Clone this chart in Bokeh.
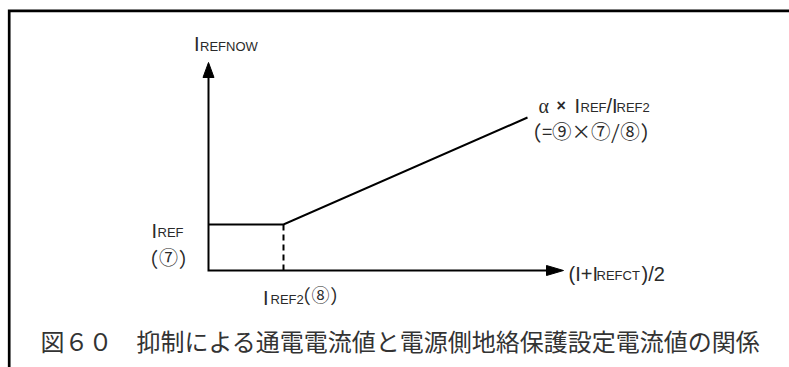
from bokeh.plotting import figure
from bokeh.models import Range1d, Label
from bokeh.embed import file_html
from bokeh.resources import INLINE

# ---- diagram values (drawing units, 1 unit = 1 px) ----
x_axis_end = 355          # tip of (I+IREFCT)/2 axis
y_axis_end = 208          # tip of IREFNOW axis
i_ref = 46                # IREF level (7)
i_ref2 = 75               # IREF2 break point (8)
curve_x = [0, i_ref2, 319]
curve_y = [i_ref, i_ref, 153]

caption = "図６０　抑制による通電電流値と電源側地絡保護設定電流値の関係"
y_label_main, y_label_sub = "I", "REFNOW"
x_label_parts = ["(I+I", "REFCT", ")/2"]
slope_parts = ["α", "×", "I", "REF", "/I", "REF2"]
slope_note = "(=⑨×⑦/⑧)"
iref_parts = ["I", "REF"]
iref_note = "(⑦)"
iref2_parts = ["I", "REF2", "(⑧)"]

W, H = 789, 367
ox, oy = 208, 270  # origin position inside canvas (px from left / top)

p = figure(width=W, height=H, x_range=Range1d(-ox, W - ox), y_range=Range1d(oy - H, oy),
           output_backend="svg", toolbar_location=None, x_axis_type=None, y_axis_type=None,
           min_border=0, background_fill_color="white", border_fill_color="white")
p.outline_line_color = None

# frame (clipped on the right / bottom like the source)
fx = -ox + 8.7
fy = oy - 10.4
p.line([fx, fx, W], [oy - H - 10, fy, fy], line_color="black", line_width=2.7, line_join="miter")

# axes
p.line([0, 0, x_axis_end - 16], [y_axis_end - 14, 0, 0], line_color="black", line_width=2,
       line_join="miter")
p.patches(xs=[[0, -5.5, 5.5], [x_axis_end, x_axis_end - 17, x_axis_end - 17]],
          ys=[[y_axis_end, y_axis_end - 15, y_axis_end - 15], [0, 5, -5]],
          fill_color="black", line_color="black", line_width=1)

# characteristic
p.line(curve_x, curve_y, line_color="black", line_width=2, line_join="miter")
p.line([i_ref2, i_ref2], [i_ref, -4], line_color="black", line_width=2, line_dash="6 4")

TXT = "#2a2a2a"
MAIN, SUB = 20, 13
LAT = "Liberation Sans"
CJK = "'Noto Sans Mono CJK JP', 'Noto Sans CJK JP'"
CJKC = "Noto Sans CJK JP"
DY_A = 6     # correction for alphabetic baseline placement
DY_M = 2.5   # correction for middle baseline placement


def lab(text, x, y, size, font=LAT, baseline="alphabetic", color=TXT, style="normal"):
    dy = DY_A if baseline == "alphabetic" else DY_M
    p.add_layout(Label(x=x, y=y + dy, text=text, text_font=font, text_font_size=f"{size}px",
                       text_color=color, text_baseline=baseline, text_align="left",
                       text_font_style=style))


# y-axis title
lab(y_label_main, -14.5, y_axis_end + 13, MAIN)
lab(y_label_sub, -8.5, y_axis_end + 10, SUB)

# x-axis title
xt = x_axis_end + 5
lab(x_label_parts[0], xt, -9, MAIN)
lab(x_label_parts[1], xt + 28, -11, SUB)
lab(x_label_parts[2], xt + 73, -9, MAIN)

# slope label
sx, sy = 330, 159
lab(slope_parts[0], sx, sy, MAIN, font="Liberation Serif")
lab(slope_parts[1], sx + 18, sy, 16, style="bold")
lab(slope_parts[2], sx + 36, sy, MAIN)
lab(slope_parts[3], sx + 42, sy - 2, SUB)
lab(slope_parts[4], sx + 68, sy, MAIN)
lab(slope_parts[5], sx + 78, sy - 2, SUB)
lab(slope_note, sx - 6, sy - 21, 19.5, font=CJK, baseline="middle")

# IREF label
lab(iref_parts[0], -57, i_ref - 12, MAIN)
lab(iref_parts[1], -51, i_ref - 14, SUB)
lab(iref_note, -59, 12, 19, font=CJK, baseline="middle")

# IREF2 label
lab(iref2_parts[0], i_ref2 - 20.5, -33, MAIN)
lab(iref2_parts[1], i_ref2 - 13, -35, SUB)
lab(iref2_parts[2], i_ref2 + 19, -26, 18, font=CJK, baseline="middle")

# caption
lab(caption, -168, -72, 24, font=CJKC, baseline="middle", color="#333333")

open("out.html", "w").write(file_html(p, INLINE))
